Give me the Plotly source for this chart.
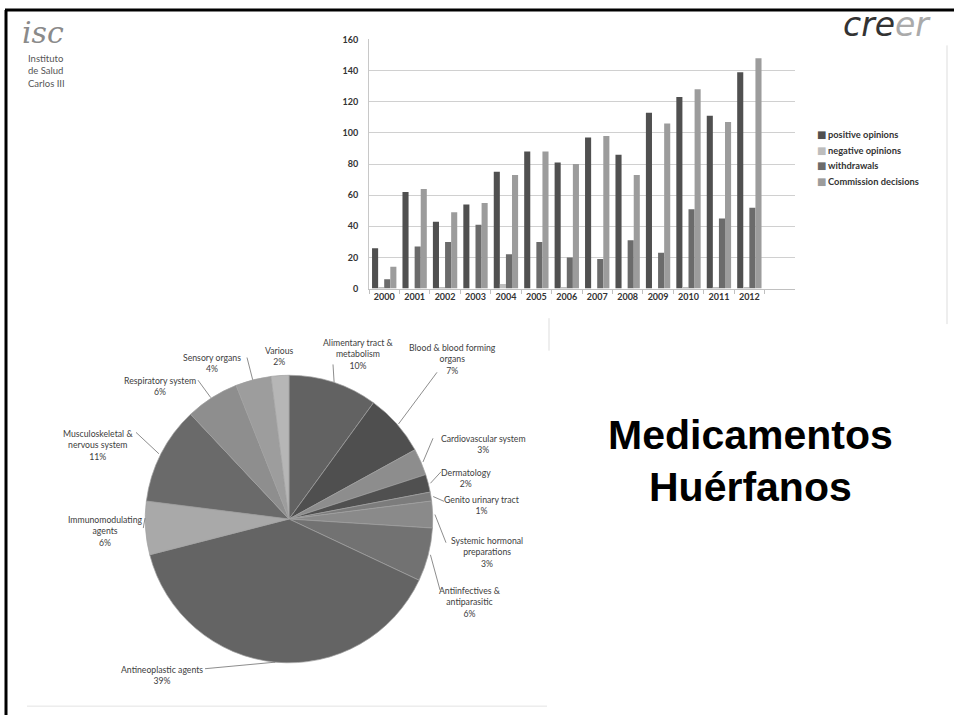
import math
import plotly.graph_objects as go

W, H = 954, 720

# ---------------- Data ----------------
years = ["2000", "2001", "2002", "2003", "2004", "2005", "2006",
         "2007", "2008", "2009", "2010", "2011", "2012"]
positive_opinions = [26, 62, 43, 54, 75, 88, 81, 97, 86, 113, 123, 111, 139]
negative_opinions = [1, 0, 1, 0, 3, 0, 1, 0, 0, 0, 1, 1, 1]
withdrawals = [6, 27, 30, 41, 22, 30, 20, 19, 31, 23, 51, 45, 52]
commission_decisions = [14, 64, 49, 55, 73, 88, 80, 98, 73, 106, 128, 107, 148]
bar_series = ["positive opinions", "negative opinions", "withdrawals", "Commission decisions"]

pie_labels = ["Alimentary tract &<br>metabolism", "Blood & blood forming<br>organs",
              "Cardiovascular system", "Dermatology", "Genito urinary tract",
              "Systemic hormonal<br>preparations", "Antiinfectives &<br>antiparasitic",
              "Antineoplastic agents", "Immunomodulating<br>agents",
              "Musculoskeletal &<br>nervous system", "Respiratory system",
              "Sensory organs", "Various"]
pie_values = [10, 7, 3, 2, 1, 3, 6, 39, 6, 11, 6, 4, 2]

title_lines = ["Medicamentos", "Huérfanos"]

# ---------------- Styles ----------------
bar_colors = ["#505050", "#bdbdbd", "#6b6b6b", "#9c9c9c"]
pie_colors = ["#626262", "#4f4f4f", "#8d8d8d", "#505050", "#7c7c7c", "#8a8a8a",
              "#727272", "#646464", "#a9a9a9", "#6a6a6a", "#8e8e8e", "#9d9d9d", "#b6b6b6"]

def px(x):
    return x / W

def py(y):
    return 1 - y / H

fig = go.Figure()

for name, vals, col in zip(bar_series,
                           [positive_opinions, negative_opinions, withdrawals, commission_decisions],
                           bar_colors):
    fig.add_trace(go.Bar(x=years, y=vals, name=name, marker=dict(color=col, line=dict(width=0)),
                         xaxis="x", yaxis="y", showlegend=False))

# Pie geometry (pixels)
pcx, pcy, pr = 289, 521, 146
fig.add_trace(go.Pie(
    labels=pie_labels, values=pie_values, sort=False, direction="clockwise", rotation=0,
    marker=dict(colors=pie_colors, line=dict(color="#a0a0a0", width=0.7)),
    textinfo="none", showlegend=False, hoverinfo="label+percent",
    domain=dict(x=[px(pcx - pr), px(pcx + pr)], y=[py(pcy + pr), py(pcy - pr)]),
))

annotations = []
shapes = []

# Legend for the bar chart (drawn as text)
legend_y = [131, 146.5, 162, 178]
for name, col, ly in zip(bar_series, bar_colors, legend_y):
    annotations.append(dict(x=px(815), y=py(ly), xref="paper", yref="paper", text="■",
                            showarrow=False, font=dict(family="DejaVu Sans", size=10, color=col),
                            xanchor="left", yanchor="middle"))
    annotations.append(dict(x=px(826), y=py(ly), xref="paper", yref="paper", text=name,
                            showarrow=False,
                            font=dict(family="Lato", size=9.3, color="#333333", weight="bold"),
                            xanchor="left", yanchor="middle"))

# Pie labels: text centre positions (pixels)
label_pos = [(358, 353), (452, 358), (483, 445), (466, 479), (482, 507), (487, 554),
             (470, 605), (162, 679), (105, 533), (98, 446), (160, 386), (212, 363), (279, 355)]
label_anchor = [(333, 364), (437, 372), (433, 439), (441, 473), (444, 503), (446, 545),
                (440, 593), (205, 673), (145, 520), (136, 433), (198, 380), (247, 357), None]
total = sum(pie_values)
cum = 0
for lab, v, pos, anc in zip(pie_labels, pie_values, label_pos, label_anchor):
    mid = (cum + v / 2) / total
    cum += v
    th = 2 * math.pi * mid
    ex = pcx + pr * math.sin(th)
    ey = pcy - pr * math.cos(th)
    pct = round(100 * v / total)
    annotations.append(dict(x=px(pos[0]), y=py(pos[1]), xref="paper", yref="paper",
                            text=f"{lab}<br>{pct}%", showarrow=False,
                            font=dict(family="Lato", size=8.7, color="#404040"),
                            align="center", xanchor="center", yanchor="middle"))
    if anc is not None:
        shapes.append(dict(type="line", xref="paper", yref="paper",
                           x0=px(anc[0]), y0=py(anc[1]), x1=px(ex), y1=py(ey),
                           line=dict(color="#707070", width=0.8)))

# Title
for line, ty in zip(title_lines, [436, 488]):
    annotations.append(dict(x=px(750), y=py(ty), xref="paper", yref="paper", text=f"<b>{line}</b>",
                            showarrow=False, font=dict(family="Liberation Sans", size=41, color="#000000"),
                            xanchor="center", yanchor="middle"))

# ISCIII logo
annotations.append(dict(x=px(20), y=py(27), xref="paper", yref="paper", text="<i>isc</i>",
                        showarrow=False, font=dict(family="DejaVu Serif", size=30, color="#8a8a8a"),
                        xanchor="left", yanchor="middle"))
annotations.append(dict(x=px(26), y=py(66), xref="paper", yref="paper",
                        text="Instituto<br>de Salud<br>Carlos III", showarrow=False,
                        font=dict(family="Lato", size=9.5, color="#555555"),
                        xanchor="left", yanchor="middle", align="left"))
# creer logo
annotations.append(dict(x=px(841), y=py(19), xref="paper", yref="paper",
                        text="<i><span style='color:#333333'>cre</span><span style='color:#aaaaaa'>er</span></i>",
                        showarrow=False, font=dict(family="DejaVu Sans", size=33, color="#333333"),
                        xanchor="left", yanchor="middle"))

# Slide frame and panel borders
shapes += [
    dict(type="line", xref="paper", yref="paper", x0=px(5), y0=py(4), x1=px(954), y1=py(4),
         line=dict(color="#000000", width=3)),
    dict(type="line", xref="paper", yref="paper", x0=px(6), y0=py(4), x1=px(6), y1=py(720),
         line=dict(color="#000000", width=3)),
    dict(type="line", xref="paper", yref="paper", x0=px(947), y0=py(40), x1=px(947), y1=py(323),
         line=dict(color="#dddddd", width=1)),
    dict(type="line", xref="paper", yref="paper", x0=px(549), y0=py(317), x1=px(549), y1=py(350),
         line=dict(color="#dddddd", width=1)),
    dict(type="line", xref="paper", yref="paper", x0=px(27), y0=py(711), x1=px(547), y1=py(711),
         line=dict(color="#e3e3e3", width=1)),
]

tickfont = dict(family="Lato", size=9, color="#333333", weight="bold")
fig.update_layout(
    width=W, height=H, margin=dict(l=0, r=0, t=0, b=0),
    paper_bgcolor="white", plot_bgcolor="white",
    barmode="group", bargap=0.2, bargroupgap=0, showlegend=False,
    xaxis=dict(domain=[px(369), px(795)], type="category", categoryarray=years,
               range=[-0.5, 13.5], showgrid=False, showline=True, linecolor="#c0c0c0",
               ticks="outside", tickson="boundaries", ticklen=4, tickcolor="#c0c0c0",
               tickfont=tickfont, fixedrange=True),
    yaxis=dict(domain=[py(287), py(34)], range=[0, 160], dtick=20, showgrid=True,
               gridcolor="#d0d0d0", showline=True, linecolor="#c8c8c8", zeroline=False,
               ticks="", tickfont=tickfont, ticklabelstandoff=8),
    annotations=annotations, shapes=shapes,
)

fig.write_html("out.html")
